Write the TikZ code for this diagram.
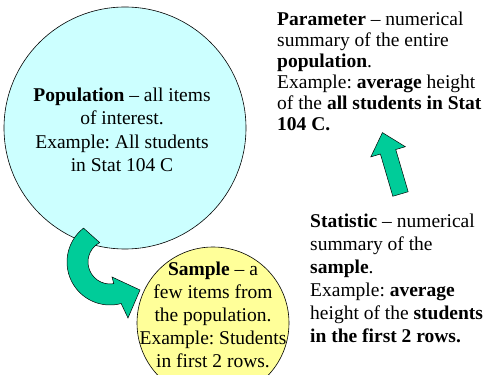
\documentclass[tikz,border=0pt]{standalone}
\usepackage{fontspec}
\setmainfont{Liberation Serif}
\frenchspacing
\definecolor{popcyan}{HTML}{CCFFFF}
\definecolor{sampyellow}{HTML}{FFFF99}
\definecolor{arrowgreen}{HTML}{00CC99}
\usetikzlibrary{calc}

\begin{document}
\begin{tikzpicture}[
    x=1pt, y=1pt,
    circ/.style={circle, draw=black, line width=0.6pt, inner sep=0pt},
    txt/.style={inner sep=0pt, text=black, font=\fontsize{19.5}{23.5}\selectfont},
    blockarrow/.style={draw=black, line width=0.5pt, fill=arrowgreen, line join=miter}
]
    \clip (0,0) rectangle (488,375);

    \node[circ, fill=popcyan, minimum size=242] (pop) at (125,247) {};
    \node[circ, fill=sampyellow, minimum size=152] (samp) at (213,52) {};

    \node[txt, align=center] (poptext) at (122,245)
        {\textbf{Population} – all items\\of interest.\\Example: All students\\in Stat 104 C};
    \node[txt, align=center, font=\fontsize{19.5}{23}\selectfont] (samptext) at (213,60)
        {\textbf{Sample} – a\\few items from\\the population.\\Example: Students\\in first 2 rows.};

    \node[txt, align=left, anchor=north west, font=\fontsize{19.5}{21}\selectfont] (param) at (277,363)
        {\textbf{Parameter} – numerical\\summary of the entire\\\textbf{population}.\\Example: \textbf{average} height\\of the \textbf{all students in Stat}\\\textbf{104 C.}};
    \node[txt, align=left, anchor=north west, font=\fontsize{19.5}{23}\selectfont] (stat) at (310,161.5)
        {\textbf{Statistic} – numerical\\summary of the\\\textbf{sample}.\\Example: \textbf{average}\\height of the \textbf{students}\\\textbf{in the first 2 rows.}};

    % curved arrow: population -> sample
    \coordinate (bend) at (110,113);
    \draw[blockarrow] ($(bend)+(128:43)$) arc[start angle=128, end angle=285, radius=43]
        -- (128,57) -- (140,85) -- (112,98) -- ($(bend)+(280:22)$)
        arc[start angle=280, end angle=118, radius=22] -- cycle;

    % straight arrow: statistic -> parameter
    \begin{scope}[shift={(400.5,181)}, rotate=16.4]
        \draw[blockarrow] (-8,0) -- (8,0) -- (8,44) -- (18,44) -- (0,64) -- (-18,44) -- (-8,44) -- cycle;
    \end{scope}
\end{tikzpicture}
\end{document}
